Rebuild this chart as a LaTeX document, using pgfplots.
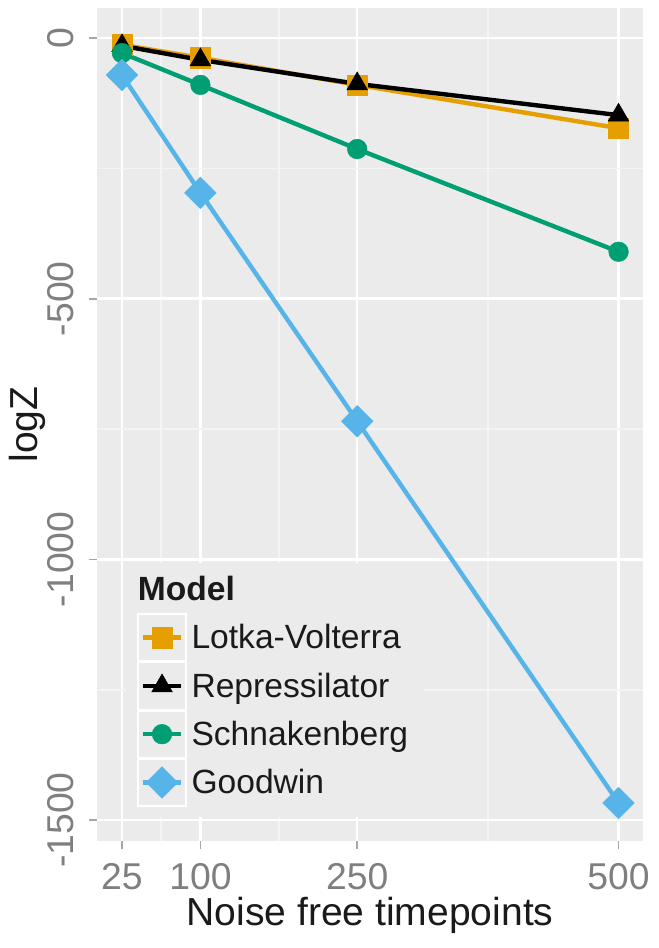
\documentclass[border=0pt]{standalone}
\usepackage{pgfplots}
\pgfplotsset{compat=1.18}
\usepackage{fontspec}
\setmainfont{Liberation Sans}
\definecolor{panelbg}{HTML}{EBEBEB}
\definecolor{minorgrid}{HTML}{F4F4F4}
\definecolor{keybg}{HTML}{EBEBEB}
\definecolor{lvc}{HTML}{E69F00}
\definecolor{repc}{HTML}{000000}
\definecolor{schc}{HTML}{009E73}
\definecolor{goodc}{HTML}{56B4E9}
\definecolor{ticklab}{HTML}{7F7F7F}
\definecolor{tickc}{HTML}{A6A6A6}
\definecolor{titlec}{HTML}{1A1A1A}
\pgfplotsset{
  keyimg/.style={legend image code/.code={
    \draw[draw=white, line width=1.2pt, fill=keybg] (0pt,-17.6pt) rectangle (36pt,17.6pt);
    \draw[#1, line width=3.3pt] (3.5pt,0pt) -- (32.5pt,0pt);
    \draw[##1] plot coordinates {(18pt,0pt)};
  }},
}
\pgfplotstableread{
x    lv     rep    sch    good
25   -13    -15    -29    -71
100  -38    -42    -90    -297
250  -90    -88    -213   -735
500  -173   -148   -410   -1467
}\datatab
\begin{document}
\begin{tikzpicture}
\begin{axis}[
  at={(0pt,0pt)}, anchor=south west,
  scale only axis,
  width=409.5pt, height=624.75pt,
  xmin=1.08, xmax=523.4,
  ymin=-1540, ymax=57.5,
  xtick={25,100,250,500},
  xticklabels={25,100,250,500},
  minor xtick={62.5,175,375},
  ytick={-1500,-1000,-500,0},
  yticklabels={-1500,-1000,-500,0},
  minor ytick={-1250,-750,-250},
  xtick pos=bottom, ytick pos=left,
  tick align=outside,
  major tick length=6pt,
  minor tick length=0pt,
  tick style={color=tickc, line width=1.3pt},
  axis line style={draw=none},
  axis background/.style={fill=panelbg},
  grid=both,
  major grid style={color=white, line width=1.9pt},
  minor grid style={color=minorgrid, line width=1.1pt},
  ticklabel style={font=\fontsize{28pt}{28pt}\selectfont, text=ticklab},
  yticklabel style={xshift=-11.5pt, rotate=90, anchor=base},
  xticklabel style={anchor=north, yshift=-7.5pt},
  xlabel={Noise free timepoints},
  ylabel={logZ},
  every axis x label/.style={at={(axis description cs:0.5,-0.1015)}, anchor=base,
    font=\fontsize{29.3pt}{29.3pt}\selectfont, text=titlec},
  every axis y label/.style={at={(axis description cs:-0.1081,0.5)}, rotate=90, anchor=base,
    font=\fontsize{29.3pt}{29.3pt}\selectfont, text=titlec},
  legend cell align=left,
  legend style={at={(axis description cs:0.0531,0.3337)}, anchor=north west,
    fill=panelbg, draw=none, inner xsep=8.25pt, inner ysep=8pt,
    row sep=-0.2pt, font=\fontsize{25.2pt}{25.2pt}\selectfont, text=titlec,
    nodes={inner xsep=3.5pt, inner ysep=2pt}},
]
\addlegendimage{empty legend}
\addlegendentry{\hspace*{-40.3pt}\raisebox{6pt}{\textbf{Model}}}
% lines first
\addplot[lvc, line width=3.3pt, forget plot] table[x=x, y=lv] {\datatab};
\addplot[repc, line width=3.3pt, forget plot] table[x=x, y=rep] {\datatab};
\addplot[schc, line width=3.3pt, forget plot] table[x=x, y=sch] {\datatab};
\addplot[goodc, line width=3.3pt, forget plot] table[x=x, y=good] {\datatab};
% points
\addplot[only marks, mark=square*, mark size=7.6pt, color=lvc, fill=lvc, line width=0.3pt, keyimg=lvc]
  table[x=x, y=lv] {\datatab};
\addlegendentry{Lotka-Volterra}
\addplot[only marks, mark=triangle*, mark size=9pt, color=repc, fill=repc, line width=0.3pt, keyimg=repc]
  table[x=x, y=rep] {\datatab};
\addlegendentry{Repressilator}
\addplot[only marks, mark=*, mark size=7.4pt, color=schc, fill=schc, line width=0.3pt, keyimg=schc]
  table[x=x, y=sch] {\datatab};
\addlegendentry{Schnakenberg}
\addplot[only marks, mark=square*, mark size=8.4pt, mark options={rotate=45}, color=goodc, fill=goodc, line width=0.3pt, keyimg=goodc]
  table[x=x, y=good] {\datatab};
\addlegendentry{Goodwin}
\end{axis}
\path[use as bounding box] (-72.75pt,-80.25pt) rectangle (421.5pt,630.75pt);
\end{tikzpicture}
\end{document}
